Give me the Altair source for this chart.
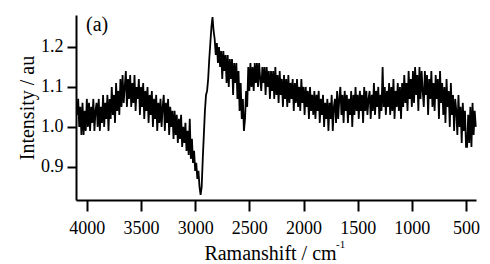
import altair as alt
import pandas as pd

shift = [
    4090, 4080, 4070, 4060, 4050, 4040, 4030, 4020, 4010, 4000,
    3990, 3980, 3970, 3960, 3950, 3940, 3930, 3920, 3910, 3900,
    3890, 3880, 3870, 3860, 3850, 3840, 3830, 3820, 3810, 3800,
    3790, 3780, 3770, 3760, 3750, 3740, 3730, 3720, 3710, 3700,
    3690, 3680, 3670, 3660, 3650, 3640, 3630, 3620, 3610, 3600,
    3590, 3580, 3570, 3560, 3550, 3540, 3530, 3520, 3510, 3500,
    3490, 3480, 3470, 3460, 3450, 3440, 3430, 3420, 3410, 3400,
    3390, 3380, 3370, 3360, 3350, 3340, 3330, 3320, 3310, 3300,
    3290, 3280, 3270, 3260, 3250, 3240, 3230, 3220, 3210, 3200,
    3190, 3180, 3170, 3160, 3150, 3140, 3130, 3120, 3110, 3100,
    3090, 3080, 3070, 3060, 3050, 3040, 3030, 3020, 3010, 3000,
    2990, 2980, 2970, 2960, 2950,
    2940, 2930, 2920, 2910, 2900, 2890, 2880, 2870, 2860, 2850, 2840, 2830,
    2820, 2810, 2800, 2790, 2780, 2770, 2760, 2750, 2740, 2730, 2720, 2710, 2700,
    2690, 2680, 2670, 2660, 2650, 2640, 2630, 2620, 2610, 2600,
    2590, 2580, 2570, 2560, 2550, 2540, 2530, 2520, 2510, 2500,
    2490, 2480, 2470, 2460, 2450, 2440, 2430, 2420, 2410, 2400,
    2390, 2380, 2370, 2360, 2350, 2340, 2330, 2320, 2310, 2300,
    2290, 2280, 2270, 2260, 2250, 2240, 2230, 2220, 2210, 2200,
    2190, 2180, 2170, 2160, 2150, 2140, 2130, 2120, 2110, 2100,
    2090, 2080, 2070, 2060, 2050, 2040, 2030, 2020, 2010, 2000,
    1990, 1980, 1970, 1960, 1950, 1940, 1930, 1920, 1910, 1900,
    1890, 1880, 1870, 1860, 1850, 1840, 1830, 1820, 1810, 1800,
    1790, 1780, 1770, 1760, 1750, 1740, 1730, 1720, 1710, 1700,
    1690, 1680, 1670, 1660, 1650, 1640, 1630, 1620, 1610, 1600,
    1590, 1580, 1570, 1560, 1550, 1540, 1530, 1520, 1510, 1500,
    1490, 1480, 1470, 1460, 1450, 1440, 1430, 1420, 1410, 1400,
    1390, 1380, 1370, 1360, 1350, 1340, 1330, 1320, 1310, 1300,
    1290, 1280, 1270, 1260, 1250, 1240, 1230, 1220, 1210, 1200,
    1190, 1180, 1170, 1160, 1150, 1140, 1130, 1120, 1110, 1100,
    1090, 1080, 1070, 1060, 1050, 1040, 1030, 1020, 1010, 1000,
    990, 980, 970, 960, 950, 940, 930, 920, 910, 900,
    890, 880, 870, 860, 850, 840, 830, 820, 810, 800,
    790, 780, 770, 760, 750, 740, 730, 720, 710, 700,
    690, 680, 670, 660, 650, 640, 630, 620, 610, 600,
    590, 580, 570, 560, 550, 540, 530, 520, 510, 500,
    490, 480, 470, 460, 450, 440, 430, 420, 410,
]

intensity = [
    1.03, 1.07, 1.00, 1.05, 0.98, 1.06, 0.98, 1.04, 0.99, 1.07,
    1.00, 1.06, 0.99, 1.05, 1.01, 1.07, 0.99, 1.04, 1.06, 1.00,
    1.07, 0.99, 1.05, 1.01, 1.08, 1.00, 1.06, 1.02, 1.08, 0.99,
    1.07, 1.02, 1.10, 1.03, 1.08, 1.01, 1.11, 1.04, 1.09, 1.03,
    1.12, 1.05, 1.13, 1.06, 1.10, 1.14, 1.05, 1.12, 1.07, 1.13,
    1.05, 1.11, 1.06, 1.13, 1.04, 1.10, 1.07, 1.12, 1.03, 1.10,
    1.05, 1.11, 1.02, 1.09, 1.04, 1.10, 1.01, 1.08, 1.03, 1.09,
    1.00, 1.07, 1.02, 1.08, 0.99, 1.06, 1.01, 1.07, 1.00, 1.05,
    1.08, 0.99, 1.06, 1.01, 1.07, 0.98, 1.05, 1.00, 1.04, 0.97,
    1.04, 0.98, 1.03, 0.96, 1.02, 0.97, 1.03, 0.95, 1.00, 0.96,
    1.01, 0.94, 0.99, 0.93, 1.02, 0.92, 0.97, 0.91, 0.94, 0.89,
    0.91, 0.87, 0.89, 0.85, 0.83,
    0.85, 0.92, 0.98, 1.04, 1.08, 1.09, 1.12, 1.17, 1.21, 1.25, 1.275, 1.24,
    1.22, 1.18, 1.21, 1.16, 1.20, 1.15, 1.19, 1.12, 1.19, 1.14, 1.18, 1.11, 1.18,
    1.10, 1.17, 1.12, 1.17, 1.08, 1.16, 1.11, 1.16, 1.07, 1.14,
    1.04, 1.11, 1.02, 1.07, 0.99, 1.02, 1.09, 1.05, 1.15, 1.09,
    1.16, 1.10, 1.15, 1.09, 1.16, 1.11, 1.16, 1.10, 1.16, 1.12,
    1.09, 1.15, 1.11, 1.15, 1.08, 1.15, 1.10, 1.14, 1.07, 1.14,
    1.09, 1.14, 1.07, 1.15, 1.08, 1.13, 1.06, 1.14, 1.08, 1.12,
    1.05, 1.13, 1.07, 1.12, 1.05, 1.13, 1.06, 1.11, 1.07, 1.12,
    1.04, 1.11, 1.06, 1.12, 1.05, 1.10, 1.04, 1.12, 1.06, 1.10,
    1.03, 1.10, 1.05, 1.09, 1.02, 1.10, 1.04, 1.08, 1.03, 1.09,
    1.02, 1.08, 1.04, 1.09, 1.01, 1.07, 1.03, 1.08, 1.00, 1.06,
    1.02, 1.07, 0.99, 1.06, 1.02, 1.08, 0.99, 1.05, 1.07, 1.01,
    1.09, 1.02, 1.07, 1.10, 1.03, 1.08, 1.01, 1.09, 1.04, 1.08,
    1.01, 1.07, 1.03, 1.09, 1.00, 1.08, 1.03, 1.10, 1.04, 1.08,
    1.02, 1.09, 1.04, 1.08, 1.01, 1.10, 1.04, 1.09, 1.03, 1.07,
    1.09, 1.02, 1.08, 1.04, 1.11, 1.03, 1.09, 1.05, 1.10, 1.02,
    1.08, 1.04, 1.15, 1.05, 1.10, 1.03, 1.09, 1.05, 1.11, 1.03,
    1.10, 1.04, 1.12, 1.02, 1.09, 1.05, 1.11, 1.04, 1.10, 1.02,
    1.11, 1.05, 1.13, 1.06, 1.11, 1.04, 1.14, 1.07, 1.12, 1.05,
    1.14, 1.06, 1.15, 1.08, 1.13, 1.04, 1.15, 1.07, 1.14, 1.09,
    1.05, 1.14, 1.08, 1.13, 1.03, 1.12, 1.07, 1.14, 1.05, 1.11,
    1.04, 1.13, 1.07, 1.12, 1.02, 1.14, 1.06, 1.11, 1.03, 1.10,
    1.01, 1.12, 1.05, 1.09, 1.00, 1.11, 1.03, 1.08, 0.99, 1.07,
    1.04, 0.98, 1.08, 1.00, 1.05, 0.96, 1.06, 0.99, 1.04, 0.95,
    0.95, 1.03, 0.96, 1.05, 0.95, 1.06, 0.98, 1.04, 1.00,
]

x_ticks = [4000, 3500, 3000, 2500, 2000, 1500, 1000, 500]
y_ticks = [0.9, 1.0, 1.1, 1.2]
x_domain = [4100, 408]
y_domain = [0.817, 1.28]

n = min(len(shift), len(intensity))
df = pd.DataFrame({"shift": shift[:n], "intensity": intensity[:n]})

FONT = "'Liberation Serif', 'Times New Roman', 'DejaVu Serif', serif"

line = alt.Chart(df).mark_line(color="black", strokeWidth=1.8).encode(
    x=alt.X(
        "shift:Q",
        scale=alt.Scale(domain=x_domain, nice=False, zero=False),
        axis=alt.Axis(
            values=x_ticks, title="Ramanshift / cm", grid=False, format="d",
            tickSize=11, tickWidth=2, domainWidth=2, domainColor="black", tickColor="black",
            labelFont=FONT, labelFontSize=18, labelColor="black", labelPadding=8,
            titleFont=FONT, titleFontSize=20, titleFontWeight="normal", titleColor="black",
            titleX=194, titleY=59, titleAlign="center", titleBaseline="alphabetic",
            labelFlush=False,
        ),
    ),
    y=alt.Y(
        "intensity:Q",
        scale=alt.Scale(domain=y_domain, nice=False, zero=False),
        axis=alt.Axis(
            values=y_ticks, title="Intensity / au", grid=False, format=".1f",
            tickSize=9, tickWidth=2, domainWidth=2, domainColor="black", tickColor="black",
            labelFont=FONT, labelFontSize=18, labelColor="black", labelPadding=4,
            titleFont=FONT, titleFontSize=20, titleFontWeight="normal", titleColor="black",
            titlePadding=3,
        ),
    ),
)

label_a = alt.Chart(pd.DataFrame({"t": ["(a)"]})).mark_text(
    font=FONT, fontSize=20, color="black", align="left", baseline="middle"
).encode(x=alt.value(10), y=alt.value(10), text="t:N")

sup = alt.Chart(pd.DataFrame({"t": ["-1"]})).mark_text(
    font=FONT, fontSize=11, color="black", align="left", baseline="middle"
).encode(x=alt.value(260), y=alt.value(230), text="t:N")

chart = (line + label_a + sup).properties(
    width=400,
    height=185,
    autosize=alt.AutoSizeParams(type="none"),
    padding={"left": 68, "top": 7, "right": 6, "bottom": 64},
).configure_view(stroke=None)

chart.save("out.html", embed_options={"renderer": "svg", "actions": False})
